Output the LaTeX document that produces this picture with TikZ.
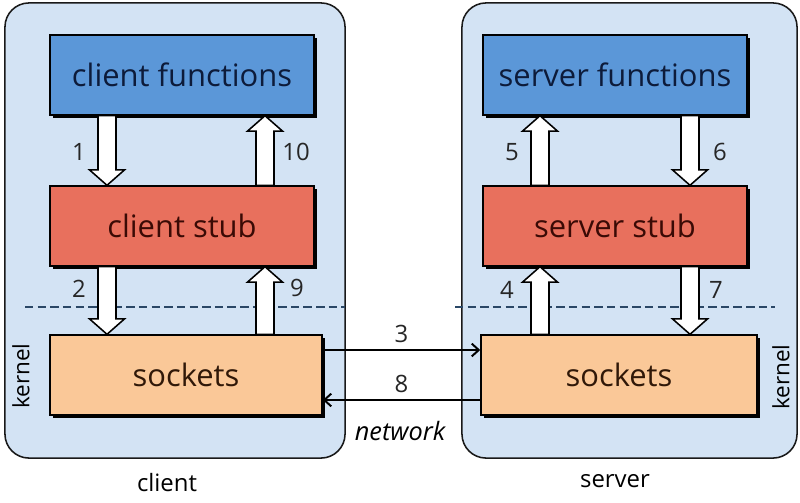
\documentclass[tikz,border=0pt]{standalone}
\usepackage{fontspec}
\setmainfont{Open Sans}
\usepackage{tikz}
\usetikzlibrary{calc, shadows, arrows.meta}

\definecolor{boxbg}{HTML}{D3E3F4}
\definecolor{funcblue}{HTML}{5B97D8}
\definecolor{stubred}{HTML}{E8705D}
\definecolor{sockpeach}{HTML}{FAC898}
\definecolor{dashblue}{HTML}{2A4766}
\definecolor{functext}{HTML}{0D1B3A}
\definecolor{stubtext}{HTML}{3A0A05}
\definecolor{socktext}{HTML}{301808}

% white block arrow between two points on the same vertical
\newcommand{\blockarr}[2]{%
  \draw[barrow] let \p1=(#1), \p2=(#2), \p3=($(#2)!11pt!(#1)$) in
    (\x1-6.4pt,\y1) -- (\x1-6.4pt,\y3) -- (\x1-12.5pt,\y3) -- (\x2,\y2)
    -- (\x1+12.5pt,\y3) -- (\x1+6.4pt,\y3) -- (\x1+6.4pt,\y1) -- cycle;}

\begin{document}
\begin{tikzpicture}[x=0.025cm, y=-0.025cm]
	\tikzset{container/.style={draw=black!90, line width=1.1pt, fill=boxbg, rounded corners=0.6cm, inner sep=0pt}}
	\tikzset{block/.style={draw=black, line width=1pt, inner sep=0pt, minimum height=2.0cm, font=\fontsize{22}{26}\selectfont,
			drop shadow={shadow xshift=2.4pt, shadow yshift=-2.4pt, fill=black, opacity=1}}}
	\tikzset{func/.style={block, fill=funcblue, text=functext, minimum width=6.6cm}}
	\tikzset{stub/.style={block, fill=stubred, text=stubtext, minimum width=6.6cm}}
	\tikzset{sock/.style={block, fill=sockpeach, text=socktext}}
	\tikzset{barrow/.style={draw=black, fill=white, line width=1.1pt, line join=miter}}
	\tikzset{net/.style={line width=1.4pt, -{Straight Barb[length=5pt, width=9pt, line width=1.4pt]}}}
	\tikzset{num/.style={font=\fontsize{17}{20}\selectfont, text=black!85}}
	\tikzset{side/.style={font=\fontsize{16}{19}\selectfont, rotate=90}}
	\tikzset{divider/.style={dashblue, line width=1.4pt, dash pattern=on 6pt off 3pt}}

	\useasboundingbox (0,0) rectangle (800,502);

	% two machines
	\node (client) [container, minimum width=8.5cm, minimum height=11.375cm] at (175,230.5) {};
	\node (server) [container, minimum width=8.375cm, minimum height=11.375cm] at (629.5,230.5) {};

	\draw[divider] (25,307) -- (345,307);
	\draw[divider] (455,307) -- (775,307);

	% client side
	\node (cf) [func] at (182,75) {client functions};
	\node (cs) [stub] at (182,226) {client stub};
	\node (cso) [sock, minimum width=6.8cm] at (186,375) {sockets};

	% server side
	\node (sf) [func] at (615,75) {server functions};
	\node (ss) [stub] at (615,226) {server stub};
	\node (sso) [sock, minimum width=6.9cm] at (619,375) {sockets};

	\coordinate (la) at (107,0);
	\coordinate (lb) at (265,0);
	\coordinate (ra) at (540,0);
	\coordinate (rb) at (690,0);

	\blockarr{cf.south -| la}{cs.north -| la}
	\blockarr{cs.north -| lb}{cf.south -| lb}
	\blockarr{cs.south -| la}{cso.north -| la}
	\blockarr{cso.north -| lb}{cs.south -| lb}
	\blockarr{ss.north -| ra}{sf.south -| ra}
	\blockarr{sf.south -| rb}{ss.north -| rb}
	\blockarr{sso.north -| ra}{ss.south -| ra}
	\blockarr{ss.south -| rb}{sso.north -| rb}

	\node[num] (n1) at (79,152) {1};
	\node[num] (n10) at (296,152) {10};
	\node[num] (n2) at (79,289) {2};
	\node[num] (n9) at (297,288) {9};
	\node[num] (n5) at (512,152) {5};
	\node[num] (n6) at (720,152) {6};
	\node[num] (n4) at (507,290) {4};
	\node[num] (n7) at (716,290) {7};

	% network
	\coordinate (y3) at (0,350);
	\coordinate (y8) at (0,400);
	\draw[net] (cso.east |- y3) -- node[num, above=1pt] (n3) {3} (sso.west |- y3);
	\draw[net] (sso.west |- y8) -- node[num, above=1pt] (n8) {8} (cso.east |- y8);
	\node (netw) [font=\fontsize{18}{21}\selectfont\itshape] at (400,431) {network};

	\node (kl) [side] at (21,376) {kernel};
	\node (kr) [side] at (781,377) {kernel};

	\node (cl) [font=\fontsize{17}{20}\selectfont] at (167,483) {client};
	\node (sv) [font=\fontsize{17}{20}\selectfont] at (615,481) {server};
\end{tikzpicture}
\end{document}
